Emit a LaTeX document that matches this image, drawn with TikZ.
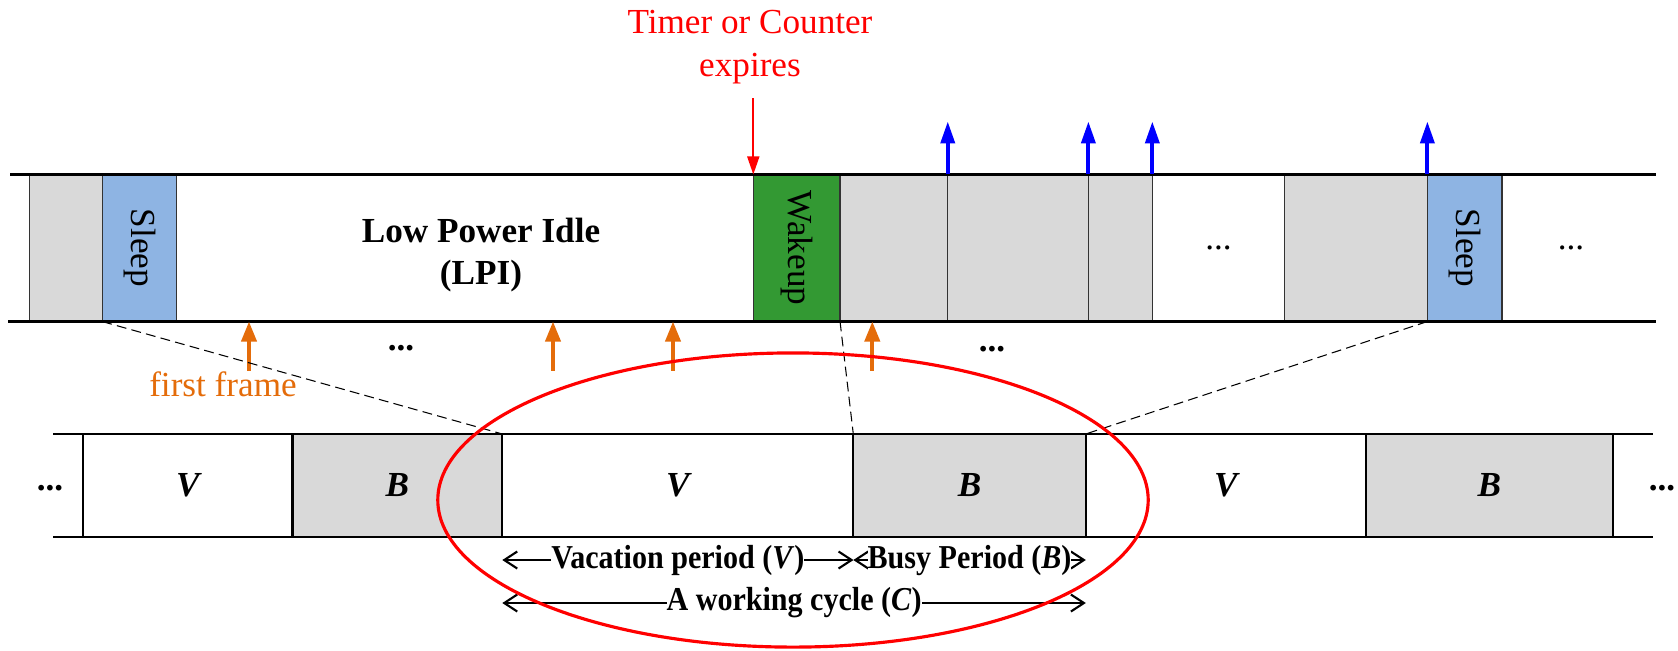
\documentclass[tikz,border=0pt]{standalone}
\usepackage{fontspec}
\setmainfont{Liberation Serif}
\newfontfamily\narrowserif[FakeStretch=0.9]{Liberation Serif}
\usetikzlibrary{arrows.meta}
\definecolor{busygray}{HTML}{D9D9D9}
\definecolor{sleepblue}{HTML}{8EB4E3}
\definecolor{wakegreen}{HTML}{339933}
\definecolor{frameorange}{HTML}{E46C0A}

\begin{document}
\begin{tikzpicture}[x=0.01cm,y=-0.01cm,
    slot/.style={draw=black!80,line width=0.35pt,anchor=west,minimum height=1.47cm,inner sep=0pt,outer sep=0pt},
    cyc/.style={draw=black,line width=0.6pt,anchor=west,minimum height=1.03cm,inner sep=0pt,outer sep=0pt,font=\bfseries\itshape},
    rail/.style={line width=0.6pt},
    evt/.style={blue,line width=1.1pt,-{Triangle[length=2.2mm,width=1.4mm]}},
    frm/.style={frameorange,line width=1.1pt,-{Triangle[length=2mm,width=1.5mm]}},
    span/.style={line width=0.6pt,{Straight Barb[length=1.3mm,width=1.7mm]}-{Straight Barb[length=1.3mm,width=1.7mm]}},
    spantxt/.style={fill=white,inner xsep=0pt,inner ysep=0pt,font=\narrowserif\fontsize{9.5}{11}\selectfont\bfseries},
    zoomline/.style={dash pattern=on 2.8pt off 1.5pt,line width=0.3pt}]
\useasboundingbox (0,0) rectangle (1678,650);

% top strip
\node[slot,fill=busygray,minimum width=0.73cm] (g0) at (29.3,248) {};
\node[slot,fill=sleepblue,minimum width=0.744cm] (s0) at (102.3,248) {\rotatebox{-90}{Sleep}};
\node[slot,minimum width=5.766cm] (lpi) at (176.7,248) {};
\node[slot,fill=wakegreen,minimum width=0.867cm] (wk) at (753.3,248) {\rotatebox{-90}{Wakeup}};
\node[slot,fill=busygray,minimum width=1.077cm] (b1) at (840,248) {};
\node[slot,fill=busygray,minimum width=1.406cm] (b2) at (947.7,248) {};
\node[slot,fill=busygray,minimum width=0.64cm] (b3) at (1088.3,248) {};
\node[slot,minimum width=1.324cm] (d1) at (1152.3,248) {...};
\node[slot,fill=busygray,minimum width=1.426cm] (b4) at (1284.7,248) {};
\node[slot,fill=sleepblue,minimum width=0.747cm] (s1) at (1427.3,248) {\rotatebox{-90}{Sleep}};
\node (d2) at (1571,248) {...};
\draw[rail] (10,174.5) -- (1656,174.5);
\draw[rail] (8,321.5) -- (1656,321.5);
\node[font=\bfseries,align=center,inner sep=0pt] (lpitxt) at (481,255) {Low Power Idle\\(LPI)};

% timer
\node[red,align=center,inner sep=0pt] (timer) at (750,47) {Timer or Counter\\expires};
\coordinate (tmr) at (753.3,98);
\draw[red,line width=0.5pt,-{Triangle[length=1.8mm,width=1.2mm]}] (tmr) -- (wk.north west);

% departures
\draw[evt] (b1.north east) -- ++(0,-53);
\draw[evt] (b2.north east) -- ++(0,-53);
\draw[evt] (b3.north east) -- ++(0,-53);
\draw[evt] (b4.north east) -- ++(0,-53);

% arrivals
\coordinate (f1) at (249,321.5);
\coordinate (f2) at (553,321.5);
\coordinate (f3) at (673,321.5);
\coordinate (f4) at (872.3,321.5);
\draw[frm] (f1) ++(0,49) -- (f1);
\draw[frm] (f2) ++(0,49) -- (f2);
\draw[frm] (f3) ++(0,49) -- (f3);
\draw[frm] (f4) ++(0,49) -- (f4);
\node[text=frameorange,inner sep=0pt] (ff) at (223,384) {first frame};
\node (dd1) at (401,348) {\textbf{...}};
\node (dd2) at (992,349) {\textbf{...}};

% bottom strip
\node[cyc,minimum width=2.093cm] (v0) at (83.2,485.5) {V};
\node[cyc,fill=busygray,minimum width=2.098cm] (bb0) at (292.5,485.5) {B};
\node[cyc,minimum width=3.51cm] (v1) at (502.3,485.5) {V};
\node[cyc,fill=busygray,minimum width=2.324cm] (bb1) at (853.3,485.5) {B};
\node[cyc,minimum width=2.799cm] (v2) at (1085.7,485.5) {V};
\node[cyc,fill=busygray,minimum width=2.472cm] (bb2) at (1365.6,485.5) {B};
\draw[rail] (53,434) -- (1653,434);
\draw[rail] (53,537) -- (1653,537);
\node (ld) at (50,488) {\textbf{...}};
\node (rd) at (1662,488) {\textbf{...}};

% zoom lines
\draw[zoomline] (s0.south west) -- (v1.north west);
\draw[zoomline] (wk.south east) -- (bb1.north west);
\draw[zoomline] (s1.south west) -- (v2.north west);

% periods
\coordinate (r1) at (0,560);
\coordinate (r2) at (0,603);
\draw[span] (v1.west |- r1) -- (v1.east |- r1) node[midway,spantxt] {Vacation period (\textit{V})};
\draw[span] (bb1.west |- r1) -- (bb1.east |- r1) node[midway,spantxt] {Busy Period (\textit{B})};
\draw[span] (v1.west |- r2) -- (bb1.east |- r2) node[midway,spantxt] {A working cycle (\textit{C})};

\draw[red,line width=0.9pt] (793,500) ellipse [x radius=3.55cm,y radius=1.47cm];
\end{tikzpicture}
\end{document}
